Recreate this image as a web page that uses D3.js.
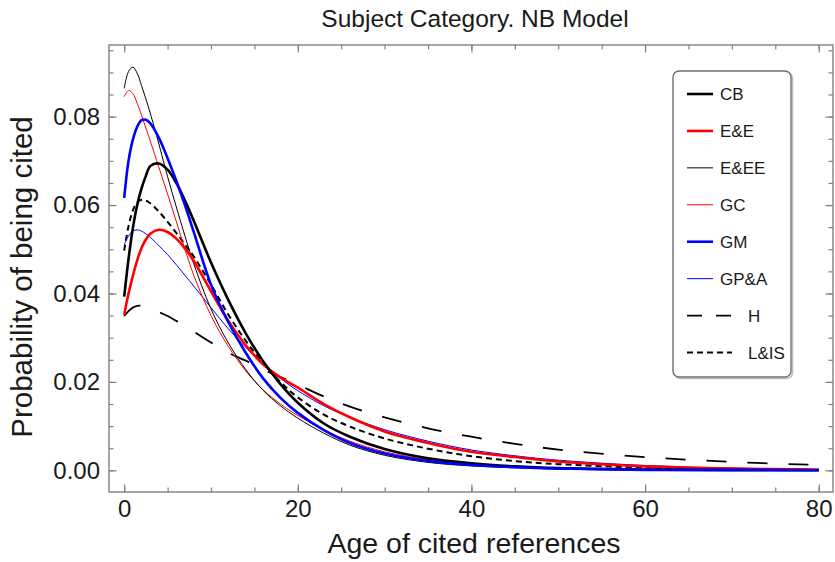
<!DOCTYPE html>
<html>
<head>
<meta charset="utf-8">
<script src="https://cdn.jsdelivr.net/npm/d3@7"></script>
<style>
  html, body { margin: 0; padding: 0; background: #fff; }
  text { font-family: "Liberation Sans", Arial, Helvetica, sans-serif; fill: #1a1a1a; }
</style>
</head>
<body>
<svg id="chart" width="835" height="562"></svg>
<script>
// ---------------- data ----------------
const ages = [0,0.5,1,1.5,2,2.5,3,4,5,6,7,8,10,12,14,16,18,20,23,26,30,35,40,45,50,60,70,80];
const CB   = [.0393,.0478,.0548,.0600,.0638,.0666,.0688,.0694,.0680,.0650,.0610,.0565,.0470,.0385,.0310,.0247,.0195,.0153,.0106,.0076,.0048,.0027,.0016,.0009,.0005,.0002,.0001,.00003];
const EE   = [.0352,.0400,.0440,.0475,.0503,.0522,.0535,.0544,.0539,.0524,.0502,.0474,.0405,.0338,.0283,.0240,.0210,.0187,.0150,.0120,.0088,.0062,.0042,.0030,.0020,.0009,.0004,.0002];
const EEE  = [.0864,.0902,.0912,.0898,.0870,.0840,.0808,.0738,.0664,.0596,.0530,.0468,.0365,.0288,.0228,.0181,.0146,.0118,.0084,.0057,.0034,.0018,.0010,.0006,.0003,.0001,.00004,.00001];
const GC   = [.0845,.0859,.0852,.0830,.0803,.0774,.0745,.0685,.0625,.0563,.0500,.0442,.0350,.0280,.0225,.0182,.0150,.0124,.0092,.0066,.0042,.0024,.0014,.0008,.0005,.0002,.0001,.00003];
const GM   = [.0616,.0700,.0748,.0777,.0792,.0793,.0785,.0752,.0706,.0655,.0600,.0540,.0420,.0335,.0266,.0208,.0164,.0130,.0091,.0062,.0038,.0021,.0012,.0007,.0004,.0001,.00005,.00002];
const GPA  = [.0510,.0530,.0541,.0544,.0541,.0535,.0527,.0508,.0488,.0465,.0441,.0417,.0368,.0320,.0278,.0241,.0208,.0180,.0146,.0120,.0092,.0066,.0046,.0033,.0023,.0011,.0005,.0002];
const H    = [.0349,.0360,.0368,.0372,.0372,.0370,.0366,.0358,.0349,.0338,.0327,.0314,.0289,.0266,.0248,.0228,.0211,.0194,.0167,.0144,.0120,.0095,.0076,.0060,.0047,.0030,.0019,.0012];
const LIS  = [.0497,.0552,.0588,.0606,.0612,.0610,.0604,.0585,.0562,.0537,.0511,.0484,.0420,.0352,.0293,.0243,.0200,.0165,.0126,.0099,.0072,.0049,.0032,.0021,.0014,.0006,.0003,.0001];

const seriesNames = ["CB","E&E","E&EE","GC","GM","GP&A","H","L&IS"];
const seriesValues = [CB, EE, EEE, GC, GM, GPA, H, LIS];

const xMajorTicks = [0,20,40,60,80];
const xMinorTicks = d3.range(0, 81, 5);
const yMajorTicks = [0,0.02,0.04,0.06,0.08];
const yMinorTicks = d3.range(0, 0.0951, 0.005);

const titleText = "Subject Category. NB Model";
const xTitle = "Age of cited references";
const yTitle = "Probability of being cited";

// ---------------- styles ----------------
const styles = {
  "CB":   {color: "#000000", width: 2.6, dash: null},
  "E&E":  {color: "#ff0000", width: 2.6, dash: null},
  "E&EE": {color: "#000000", width: 1.0, dash: null},
  "GC":   {color: "#ff0000", width: 1.0, dash: null},
  "GM":   {color: "#0000ff", width: 2.6, dash: null},
  "GP&A": {color: "#0000ff", width: 1.0, dash: null},
  "H":    {color: "#000000", width: 1.8, dash: "20,21"},
  "L&IS": {color: "#000000", width: 2.0, dash: "6,4"}
};

// ---------------- layout ----------------
const svg = d3.select("#chart");
const F = {left: 109, right: 833, top: 45, bottom: 492};

const x = d3.scaleLinear().domain([-1.75, 81.65]).range([F.left, F.right]);
const y = d3.scaleLinear().domain([-0.0049, 0.0962]).range([F.bottom, F.top]);

svg.append("rect").attr("width", 835).attr("height", 562).attr("fill", "#fff");

svg.append("defs").append("clipPath").attr("id", "clip")
  .append("rect").attr("x", F.left).attr("y", F.top)
  .attr("width", F.right - F.left).attr("height", F.bottom - F.top);

const axisColor = "#808080";

function styleAxis(g, showLabels) {
  g.select(".domain").remove();
  g.selectAll(".tick line").attr("stroke", axisColor).attr("stroke-width", 1.2);
  if (!showLabels) g.selectAll(".tick text").remove();
  else g.selectAll(".tick text").attr("font-size", 24).attr("fill", "#1a1a1a")
        .attr("font-family", "Liberation Sans, Arial, sans-serif");
}

// bottom axes
svg.append("g").attr("transform", `translate(0,${F.bottom})`)
  .call(d3.axisBottom(x).tickValues(xMinorTicks).tickSize(-4.5).tickFormat(""))
  .call(g => styleAxis(g, false));
svg.append("g").attr("transform", `translate(0,${F.bottom})`)
  .call(d3.axisBottom(x).tickValues(xMajorTicks).tickSize(-7.5).tickPadding(8).tickFormat(d3.format("d")))
  .call(g => styleAxis(g, true));
// top axes (mirrored)
svg.append("g").attr("transform", `translate(0,${F.top})`)
  .call(d3.axisTop(x).tickValues(xMinorTicks).tickSize(-4.5).tickFormat(""))
  .call(g => styleAxis(g, false));
svg.append("g").attr("transform", `translate(0,${F.top})`)
  .call(d3.axisTop(x).tickValues(xMajorTicks).tickSize(-7.5).tickFormat(""))
  .call(g => styleAxis(g, false));
// left axes
svg.append("g").attr("transform", `translate(${F.left},0)`)
  .call(d3.axisLeft(y).tickValues(yMinorTicks).tickSize(-4.5).tickFormat(""))
  .call(g => styleAxis(g, false));
svg.append("g").attr("transform", `translate(${F.left},0)`)
  .call(d3.axisLeft(y).tickValues(yMajorTicks).tickSize(-7.5).tickPadding(9).tickFormat(d3.format(".2f")))
  .call(g => styleAxis(g, true));
// right axes (mirrored)
svg.append("g").attr("transform", `translate(${F.right},0)`)
  .call(d3.axisRight(y).tickValues(yMinorTicks).tickSize(-4.5).tickFormat(""))
  .call(g => styleAxis(g, false));
svg.append("g").attr("transform", `translate(${F.right},0)`)
  .call(d3.axisRight(y).tickValues(yMajorTicks).tickSize(-7.5).tickFormat(""))
  .call(g => styleAxis(g, false));

// frame
svg.append("rect").attr("x", F.left).attr("y", F.top)
  .attr("width", F.right - F.left).attr("height", F.bottom - F.top)
  .attr("fill", "none").attr("stroke", axisColor).attr("stroke-width", 1.4);

// curves
const line = d3.line()
  .x((d, i) => x(ages[i]))
  .y(d => y(d))
  .curve(d3.curveCatmullRom.alpha(0.5));

const plot = svg.append("g").attr("clip-path", "url(#clip)");
const drawOrder = ["H","L&IS","GP&A","GC","E&EE","E&E","CB","GM"];
drawOrder.forEach(name => {
  const vals = seriesValues[seriesNames.indexOf(name)];
  const s = styles[name];
  plot.append("path")
    .datum(vals)
    .attr("d", line)
    .attr("fill", "none")
    .attr("stroke", s.color)
    .attr("stroke-width", s.width)
    .attr("stroke-linejoin", "round")
    .attr("stroke-dasharray", s.dash);
});

// titles
svg.append("text").attr("x", 475).attr("y", 27).attr("text-anchor", "middle")
  .attr("font-size", 24.5).text(titleText);
svg.append("text").attr("x", 474).attr("y", 553).attr("text-anchor", "middle")
  .attr("font-size", 28.5).text(xTitle);
svg.append("text").attr("transform", "translate(32,277) rotate(-90)").attr("text-anchor", "middle")
  .attr("font-size", 29.5).text(yTitle);

// legend
const L = {x: 673, y: 71, w: 118, h: 306};
svg.append("rect").attr("x", L.x + 1.5).attr("y", L.y + 1.5).attr("width", L.w).attr("height", L.h)
  .attr("rx", 6).attr("fill", "none").attr("stroke", "#bbb").attr("stroke-width", 1.5);
svg.append("rect").attr("x", L.x).attr("y", L.y).attr("width", L.w).attr("height", L.h)
  .attr("rx", 6).attr("fill", "#fff").attr("stroke", "#707070").attr("stroke-width", 1.4);

const legendY = d3.scaleLinear().domain([0, seriesNames.length - 1]).range([94, 352.5]);
seriesNames.forEach((name, i) => {
  const s = styles[name];
  const yy = legendY(i);
  const dashed = s.dash !== null;
  const x1 = 687, x2 = dashed ? 732 : 713;
  svg.append("line").attr("x1", x1).attr("x2", x2).attr("y1", yy).attr("y2", yy)
    .attr("stroke", s.color).attr("stroke-width", s.width)
    .attr("stroke-dasharray", name === "H" ? "15,14" : (name === "L&IS" ? "6,4" : null));
  svg.append("text").attr("x", dashed ? 748 : 720).attr("y", yy).attr("dy", "0.36em")
    .attr("font-size", 17).text(name);
});
</script>
</body>
</html>
